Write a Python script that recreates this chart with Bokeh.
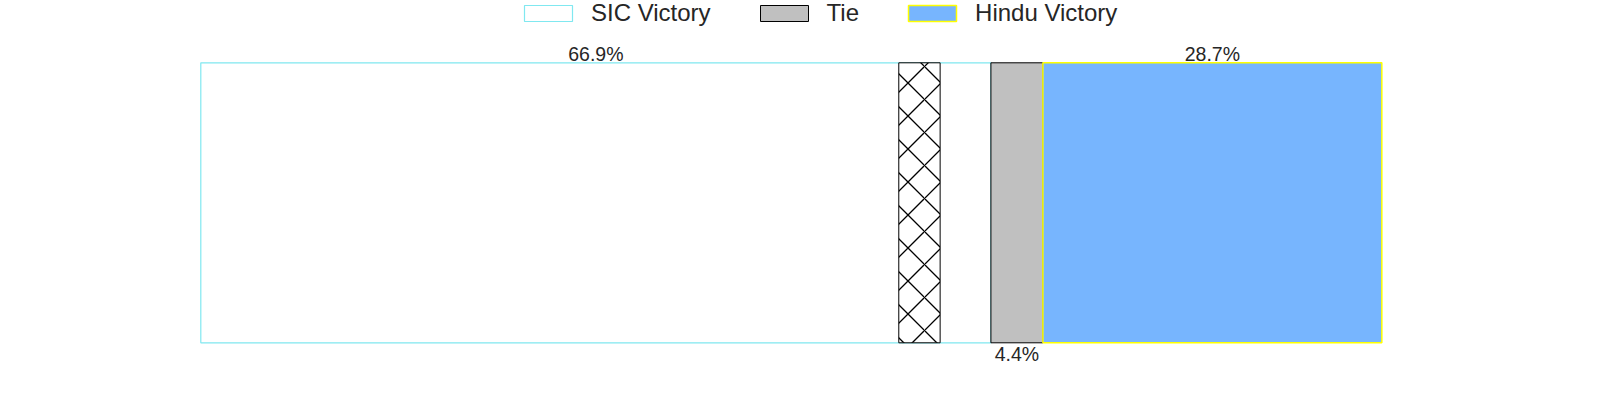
from bokeh.plotting import figure
from bokeh.models import ColumnDataSource, Range1d, Legend, LegendItem
from bokeh.core.properties import value
from bokeh.embed import file_html
from bokeh.resources import INLINE

# ---- data ----
categories = ["SIC Victory", "Tie", "Hindu Victory"]
shares = [66.9, 4.4, 28.7]
label_side = ["above", "below", "above"]
marker_span = [59.1, 62.6]   # hatched band inside the first segment

fills = ["#ffffff", "#c0c0c0", "#77b5fe"]
outlines = ["#80e8f0", "#000000", "#ffff00"]
outline_w = [1.2, 1.0, 1.5]

lefts, rights = [], []
acc = 0.0
for s in shares:
    lefts.append(acc)
    acc += s
    rights.append(acc)

src = ColumnDataSource(dict(cat=categories, left=lefts, right=rights,
                            y=[0.5] * 3, fill=fills, line=outlines, lw=outline_w))

W, H = 1584, 384
p = figure(width=W, height=H, output_backend="svg", toolbar_location=None,
           x_range=Range1d(-16.96, 117.16), y_range=Range1d(-0.1489, 1.2225),
           min_border=0, min_border_left=0, min_border_right=0,
           min_border_top=0, min_border_bottom=0)
p.axis.visible = False
p.grid.visible = False
p.outline_line_color = None
p.background_fill_color = "white"

r = p.hbar(y="y", left="left", right="right", height=1, source=src,
           fill_color="fill", line_color="line", line_width="lw")

p.quad(left=[marker_span[0]], right=[marker_span[1]], bottom=[0], top=[1],
       fill_color="white", line_color="black", line_width=1,
       hatch_pattern="x", hatch_color="black", hatch_scale=33, hatch_weight=1.3)

# percent labels
ax, at, bx, bt = [], [], [], []
for c, s, l, rr, side in zip(categories, shares, lefts, rights, label_side):
    if side == "above":
        ax.append((l + rr) / 2); at.append(f"{s}%")
    else:
        bx.append((l + rr) / 2); bt.append(f"{s}%")
p.text(x=ax, y=[1] * len(ax), text=at, text_align="center", text_baseline="alphabetic",
       y_offset=-8.5, text_font=value("Liberation Sans"), text_font_size="19.5px",
       text_color="#262626")
p.text(x=bx, y=[0] * len(bx), text=bt, text_align="center", text_baseline="top",
       y_offset=0, text_font=value("Liberation Sans"), text_font_size="19.5px",
       text_color="#262626")

items = [LegendItem(label=c, renderers=[r], index=i) for i, c in enumerate(categories)]
legend = Legend(items=items, orientation="horizontal", location=(518, 357),
                glyph_width=60, glyph_height=20, label_standoff=13, spacing=43,
                padding=0, margin=0, border_line_alpha=0, background_fill_alpha=0,
                label_text_font="Liberation Sans", label_text_font_size="24px",
                label_text_color="#262626")
p.add_layout(legend)

open("out.html", "w").write(file_html(p, INLINE))
